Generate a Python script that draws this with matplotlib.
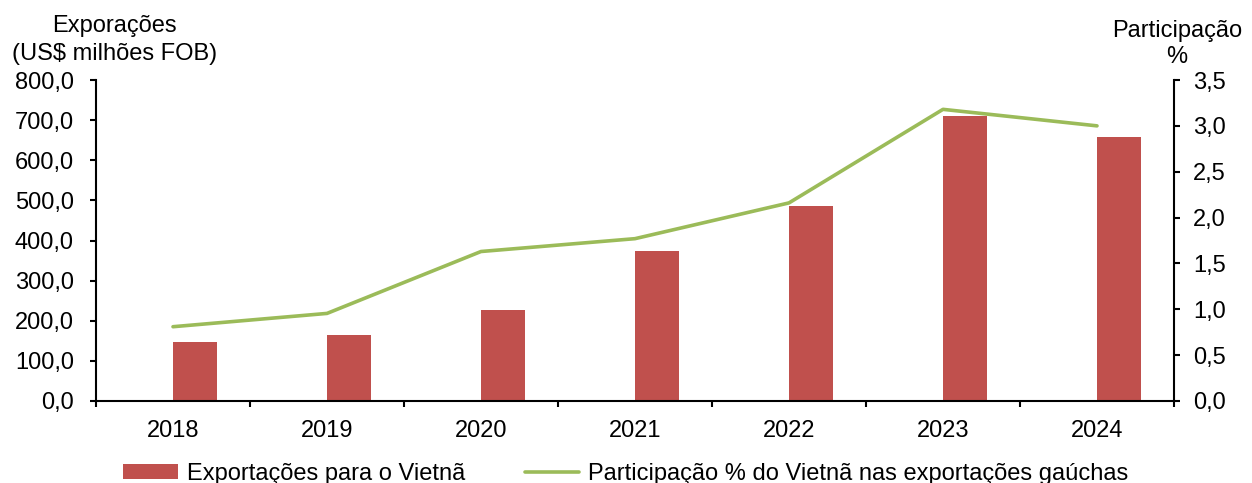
import matplotlib
matplotlib.use("Agg")
import matplotlib.pyplot as plt
from matplotlib.ticker import FuncFormatter, FixedLocator

plt.rcParams['font.family'] = ['Liberation Sans', 'DejaVu Sans']

years = ["2018", "2019", "2020", "2021", "2022", "2023", "2024"]
exports = [147.5, 165.0, 228.0, 374.0, 487.0, 710.0, 657.0]
share = [0.81, 0.955, 1.63, 1.77, 2.16, 3.18, 3.00]

W, H = 1252, 483
FS = 17
fig = plt.figure(figsize=(W/100, H/100), dpi=100)
ax = fig.add_axes([96/W, (H-401)/H, (1174-96)/W, 321/H])
ax2 = ax.twinx()

x = list(range(len(years)))
ax.bar(x, exports, width=0.286, align='edge', color='#C0504D', zorder=2,
       label='Exportações para o Vietnã')
ax2.plot(x, share, color='#9BBB59', lw=2.6, solid_capstyle='round',
         label='Participação % do Vietnã nas exportações gaúchas')

ax.set_xlim(-0.5, len(years)-0.5)
ax.set_ylim(0, 800)
ax2.set_ylim(0, 3.5)
ax.set_yticks(range(0, 801, 100))
ax2.set_yticks([i*0.5 for i in range(8)])
fmt = FuncFormatter(lambda v, p: f"{v:.1f}".replace('.', ','))
ax.yaxis.set_major_formatter(fmt)
ax2.yaxis.set_major_formatter(fmt)

ax.set_xticks(x)
ax.set_xticklabels(years)
ax.xaxis.set_minor_locator(FixedLocator([i - 0.5 for i in range(len(years)+1)]))
ax.tick_params(axis='x', which='major', length=0, pad=14, labelsize=FS)
ax.tick_params(axis='x', which='minor', length=4.5, width=1.5, direction='out')
ax.tick_params(axis='y', length=4.5, width=1.5, direction='out', labelsize=FS, pad=11.5)
ax2.tick_params(axis='y', length=4.5, width=1.5, direction='out', labelsize=FS, pad=9.4)

for a in (ax, ax2):
    a.spines['top'].set_visible(False)
    for s in ('left', 'right', 'bottom'):
        a.spines[s].set_linewidth(1.5)
ax.spines['right'].set_visible(False)
ax2.spines['left'].set_visible(False)
ax2.spines['bottom'].set_visible(False)

fig.text(114/W, 1-32/H, "Exporações", ha='center', va='baseline', fontsize=FS)
fig.text(115/W, 1-60/H, "(US$ milhões FOB)", ha='center', va='baseline', fontsize=FS)
fig.text(1177/W, 1-37/H, "Participação", ha='center', va='baseline', fontsize=FS)
fig.text(1177/W, 1-63/H, "%", ha='center', va='baseline', fontsize=FS)

h1, l1 = ax.get_legend_handles_labels()
h2, l2 = ax2.get_legend_handles_labels()
fig.legend(h1 + h2, l1 + l2, loc='center', bbox_to_anchor=(626/W, 1-474/H), ncol=2,
           frameon=False, fontsize=FS, handlelength=2.3, handleheight=0.6,
           columnspacing=2.5, handletextpad=0.4, borderpad=0, borderaxespad=0)

fig.savefig("out.png", dpi=100)
